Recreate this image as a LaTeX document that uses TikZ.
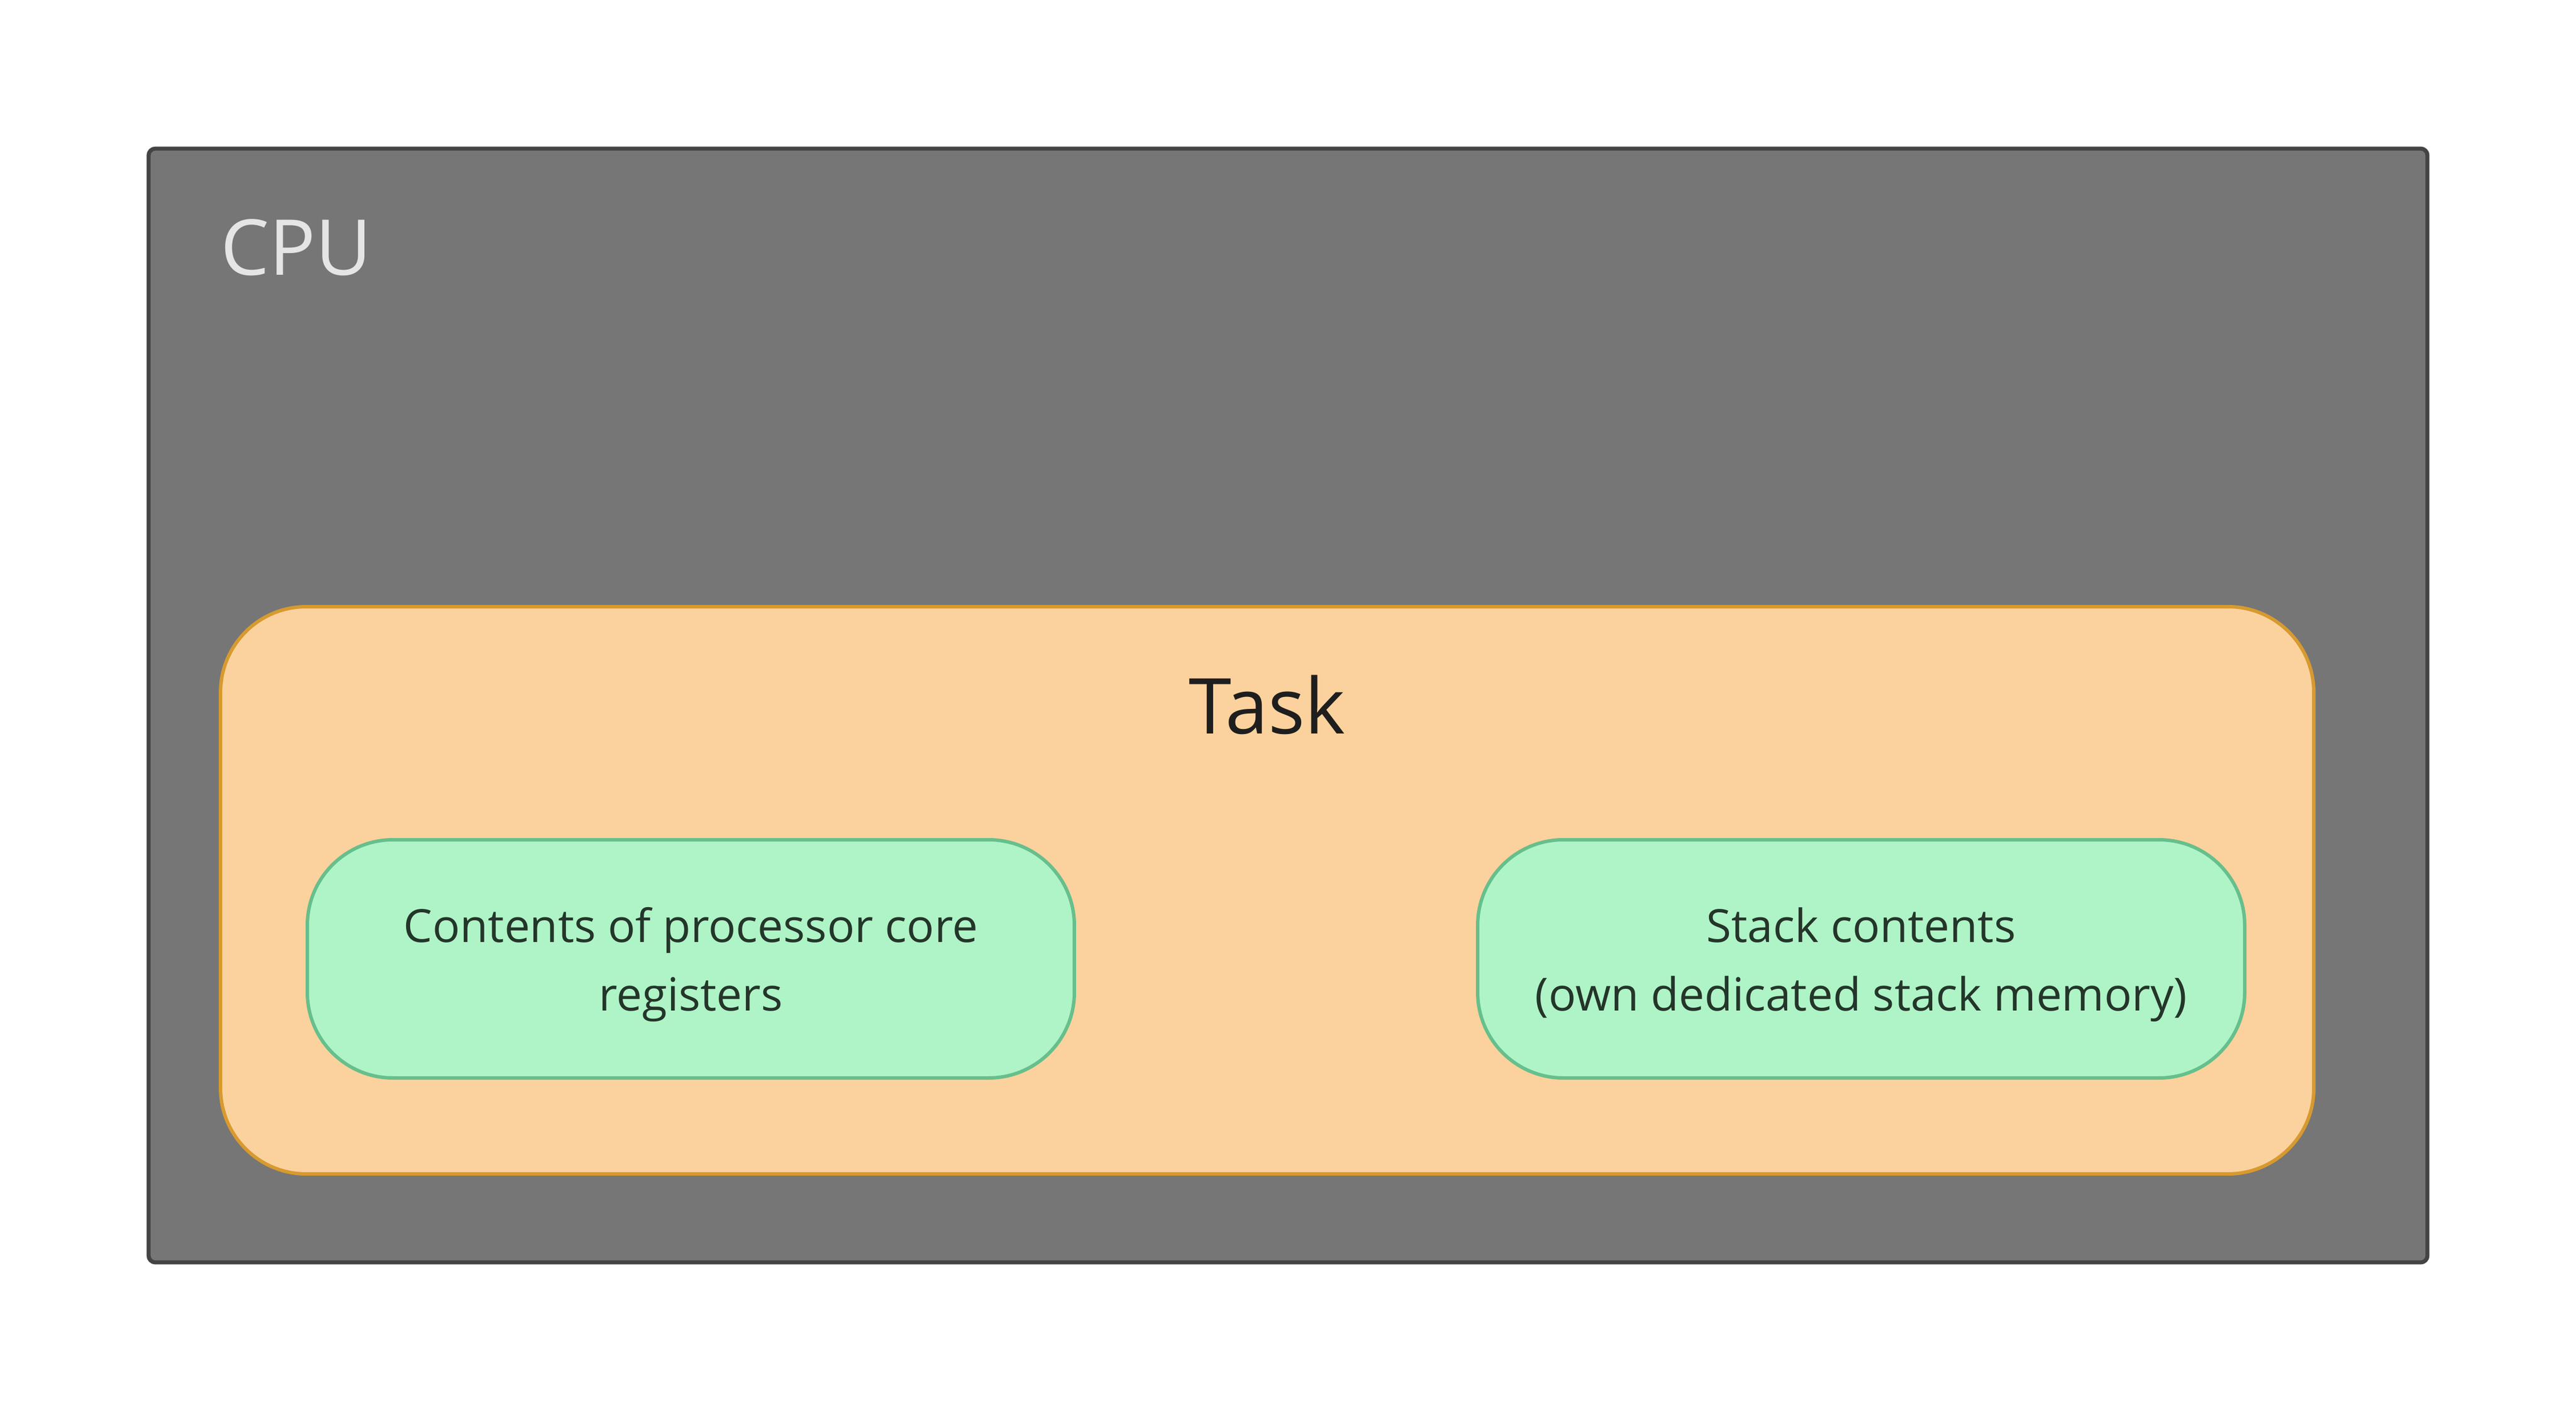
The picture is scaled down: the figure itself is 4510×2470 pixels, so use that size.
\documentclass[tikz,border=0pt]{standalone}
\usepackage{fontspec}
\setmainfont{Open Sans}
\definecolor{cpufill}{HTML}{767676}
\definecolor{cpuline}{HTML}{444444}
\definecolor{cputext}{HTML}{E5E5E5}
\definecolor{taskfill}{HTML}{FBD29D}
\definecolor{taskline}{HTML}{D79A2F}
\definecolor{tasktext}{HTML}{1E1E1E}
\definecolor{itemfill}{HTML}{AFF4C6}
\definecolor{itemline}{HTML}{66BF8C}
\definecolor{itemtext}{HTML}{24352A}
\tikzset{
  cpubox/.style={draw=cpuline, fill=cpufill, line width=0.7pt, rounded corners=1.2pt, inner sep=0pt},
  taskbox/.style={draw=taskline, fill=taskfill, line width=0.6pt, rounded corners=15pt, inner sep=0pt},
  itembox/.style={draw=itemline, fill=itemfill, line width=0.6pt, rounded corners=15pt, inner sep=0pt,
     minimum width=134.3pt, minimum height=41.7pt},
  itemlabel/.style={inner sep=0pt, text=itemtext, align=center, font=\fontsize{8}{12}\selectfont},
  biglabel/.style={inner sep=0pt, font=\fontsize{13.5}{16}\selectfont}
}
\begin{document}
\begin{tikzpicture}[x=0.1pt,y=-0.1pt]
\useasboundingbox (0,0) rectangle (4510,2470);
\fill[white] (0,0) rectangle (4510,2470);
\node[cpubox, minimum width=399pt, minimum height=195pt] (cpu) at (2255,1235) {};
\node[biglabel, text=cputext, anchor=base west] (cpulabel) at (384,482) {CPU};
\node[taskbox, minimum width=366.5pt, minimum height=99.3pt] (task) at (2218.5,1558.5) {};
\node[biglabel, text=tasktext, anchor=base] (tasklabel) at (2218.5,1284) {Task};
\node[itembox] (regs) at (1209.5,1678.5) {};
\node[itemlabel] (regstext) at ([yshift=-1pt]regs.center) {Contents of processor core\\registers};
\node[itembox] (stack) at (3258.5,1678.5) {};
\node[itemlabel] (stacktext) at ([yshift=-1pt]stack.center) {Stack contents\\(own dedicated stack memory)};
\end{tikzpicture}
\end{document}
